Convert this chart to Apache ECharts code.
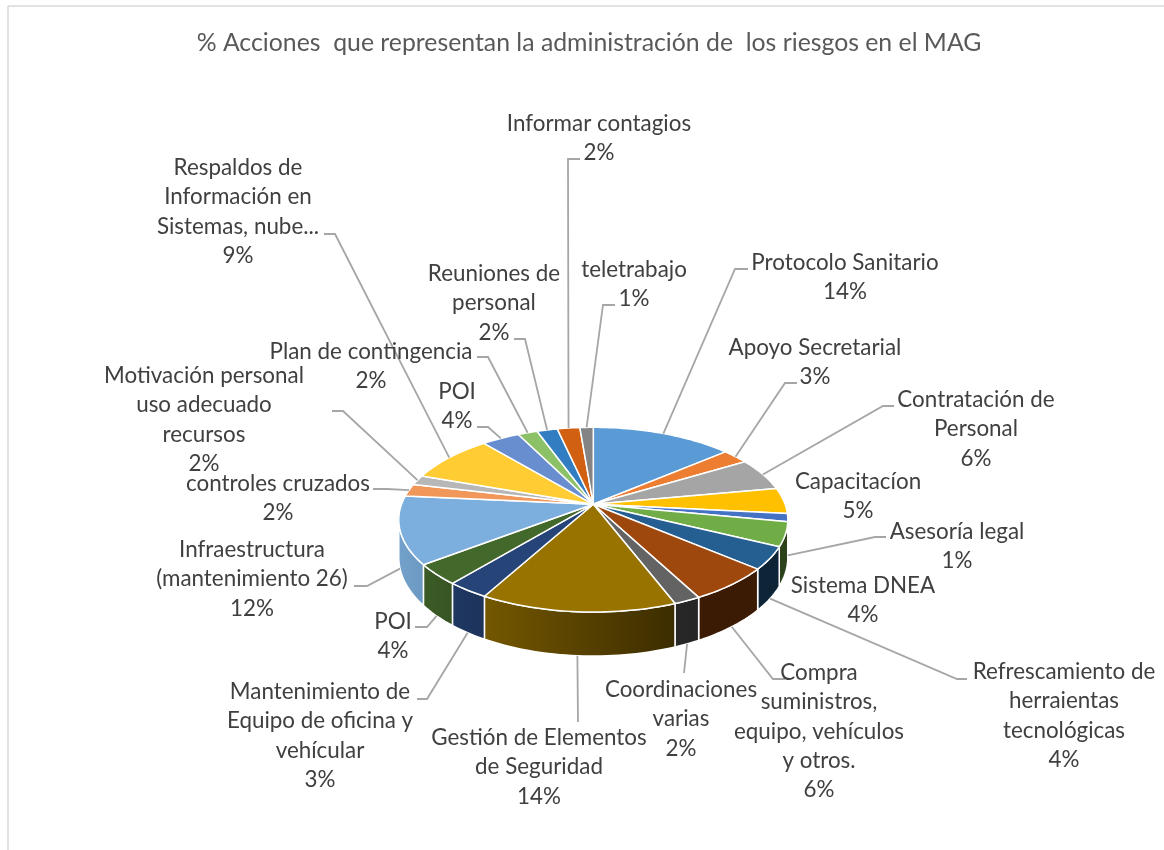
<!DOCTYPE html>
<html>
<head>
<meta charset="utf-8">
<title>Acciones riesgos MAG</title>
<script src="https://cdn.jsdelivr.net/npm/echarts@6/dist/echarts.min.js"></script>
<style>
html,body{margin:0;padding:0;background:#fff}
#chart{width:1164px;height:850px}
</style>
</head>
<body>
<div id="chart"></div>
<script>
var titleText = '% Acciones  que representan la administración de  los riesgos en el MAG';
// clockwise from 12 o'clock
var categories = [
	'Protocolo Sanitario',
	'Apoyo Secretarial',
	'Contratación de\nPersonal',
	'Capacitacíon',
	'Asesoría legal',
	'Sistema DNEA',
	'Refrescamiento de\nherraientas\ntecnológicas',
	'Compra\nsuministros,\nequipo, vehículos\ny otros.',
	'Coordinaciones\nvarias',
	'Gestión de Elementos\nde Seguridad',
	'Mantenimiento de\nEquipo de oficina y\nvehícular',
	'POI',
	'Infraestructura\n(mantenimiento 26)',
	'controles cruzados',
	'Motivación personal\nuso adecuado\nrecursos',
	'Respaldos de\nInformación en\nSistemas, nube...',
	'POI',
	'Plan de contingencia',
	'Reuniones de\npersonal',
	'Informar contagios',
	'teletrabajo'
];
var seriesValues = [13.8, 2.6, 5.7, 4.5, 1.4, 4.2, 3.9, 6.1, 1.9, 13.9, 3.0, 3.6, 11.8, 2.2, 1.7, 8.5, 3.7, 1.9, 2.0, 2.2, 1.3];
var colors = ['#5B9BD5','#ED7D31','#A5A5A5','#FFC000','#4472C4','#70AD47','#255E91','#9E480E','#636363','#997300','#264478','#43682B','#7CAFDD','#F1975A','#B7B7B7','#FFCD33','#698ED0','#8CC168','#327DC2','#D26012','#848484'];

// label placement: [center x, first line y], then leader elbow and end (none = no leader)
var labelPos = [
	[845,262],[815,347],[976,399],[858,481],[957,531],[863,585],[1064,671],[819,672],[681,689],[539,737],
	[320,691],[393,621],[252,549],[278,483],[204,375],[238,167],[457,391],[371,351],[494,273],[599,123],[634,269]
];
var leaderPts = [
	[[735,269],[748,269]],
	[[785,383],[797,383]],
	[[883,406],[894,406]],
	null,
	[[875,537],[886,537]],
	null,
	[[957,679],[967,679]],
	[[773,679],[785,679]],
	[[684,673]],
	[[578,722]],
	[[427,699],[417,699]],
	[[427,627],[415,627]],
	[[367,586],[354,586]],
	[[387,489],[373,489]],
	[[343,411],[332,411]],
	[[335,234],[324,234]],
	[[488,427],[477,427]],
	[[488,357],[477,357]],
	[[525,339],[514,339]],
	[[568,159],[580,159]],
	[[603,305],[615,305]]
];

// tilted disc, seen with perspective
var cx = 593.3, cy = 504.3, rx = 191.8, ry = 89.8, persp = 0.1667, depth = 36.7;
var wallFrom = 99.6, wallTo = 260.4;

var total = seriesValues.reduce(function(a, b){ return a + b; }, 0);
var startAngles = [];
seriesValues.reduce(function(acc, v, i){ startAngles[i] = acc; return acc + v / total * 360; }, 0);

function project(deg, drop) {
	var t = deg * Math.PI / 180, X = Math.sin(t), Y = -Math.cos(t);
	var s = 1 / (1 - persp * Y);
	return [cx + rx * X * s, cy + ry * Y * s + (drop ? depth * s : 0)];
}
function arc(a0, a1, drop) {
	var pts = [], n = Math.max(2, Math.ceil((a1 - a0) / 1.5));
	for (var i = 0; i <= n; i++) pts.push(project(a0 + (a1 - a0) * i / n, drop));
	return pts;
}
function shade(hex, f) {
	var n = parseInt(hex.slice(1), 16);
	return 'rgb(' + Math.round((n >> 16) * f) + ',' + Math.round(((n >> 8) & 255) * f) + ',' + Math.round((n & 255) * f) + ')';
}
function wallFactor(x) { // wall light falls off to the right
	var k = Math.min(1, Math.max(0, (x - 400) / 280));
	return 0.92 - 0.54 * k;
}

function renderSlice(params, api) {
	var i = params.dataIndex;
	var a0 = startAngles[i], a1 = a0 + api.value(0) / total * 360;
	var children = [];
	var w0 = Math.max(a0, wallFrom), w1 = Math.min(a1, wallTo);
	if (w1 > w0) {
		var top = arc(w0, w1, false), bottom = arc(w0, w1, true).reverse();
		var xs = top.map(function(p){ return p[0]; });
		var xMin = Math.min.apply(null, xs), xMax = Math.max.apply(null, xs);
		children.push({
			type: 'polygon',
			shape: {points: top.concat(bottom)},
			style: {
				fill: new echarts.graphic.LinearGradient(xMin, 0, xMax, 0, [
					{offset: 0, color: shade(colors[i], wallFactor(xMin))},
					{offset: 1, color: shade(colors[i], wallFactor(xMax))}
				], true),
				stroke: '#fff', lineWidth: 1.5
			}
		});
	}
	children.push({
		type: 'polygon',
		shape: {points: [[cx, cy]].concat(arc(a0, a1, false))},
		style: {fill: colors[i], stroke: '#fff', lineWidth: 1.5, lineJoin: 'round'}
	});
	return {type: 'group', children: children};
}

function renderLabel(params, api) {
	var i = params.dataIndex;
	var share = api.value(0) / total;
	var mid = startAngles[i] + share * 180;
	var children = [];
	if (leaderPts[i]) {
		children.push({
			type: 'polyline',
			shape: {points: [project(mid, mid > 96 && mid < 264)].concat(leaderPts[i])},
			style: {fill: 'none', stroke: '#A6A6A6', lineWidth: 1.8}
		});
	}
	children.push({
		type: 'text',
		style: {
			text: categories[i] + '\n' + Math.round(share * 100) + '%',
			x: labelPos[i][0], y: labelPos[i][1] - 14.2,
			align: 'center', verticalAlign: 'top',
			font: '22.4px Lato', lineHeight: 29.4, fill: '#404040'
		}
	});
	return {type: 'group', children: children};
}

var data = seriesValues.map(function(v, i){ return {name: categories[i], value: [v]}; });

var chart = echarts.init(document.getElementById('chart'));
chart.setOption({
	backgroundColor: '#fff',
	animation: false,
	title: {
		text: titleText,
		left: 584, top: 26, textAlign: 'center',
		textStyle: {color: '#595959', fontFamily: 'Lato', fontSize: 24.8, fontWeight: 'normal'}
	},
	graphic: [
		{type: 'line', shape: {x1: 8, y1: 6, x2: 1164, y2: 6}, style: {stroke: '#D9D9D9', lineWidth: 1.5}},
		{type: 'line', shape: {x1: 8, y1: 6, x2: 8, y2: 850}, style: {stroke: '#D9D9D9', lineWidth: 1.5}}
	],
	series: [
		{type: 'custom', coordinateSystem: 'none', renderItem: renderSlice, data: data, silent: true, z: 2},
		{type: 'custom', coordinateSystem: 'none', renderItem: renderLabel, data: data, silent: true, z: 3}
	]
});
</script>
</body>
</html>
